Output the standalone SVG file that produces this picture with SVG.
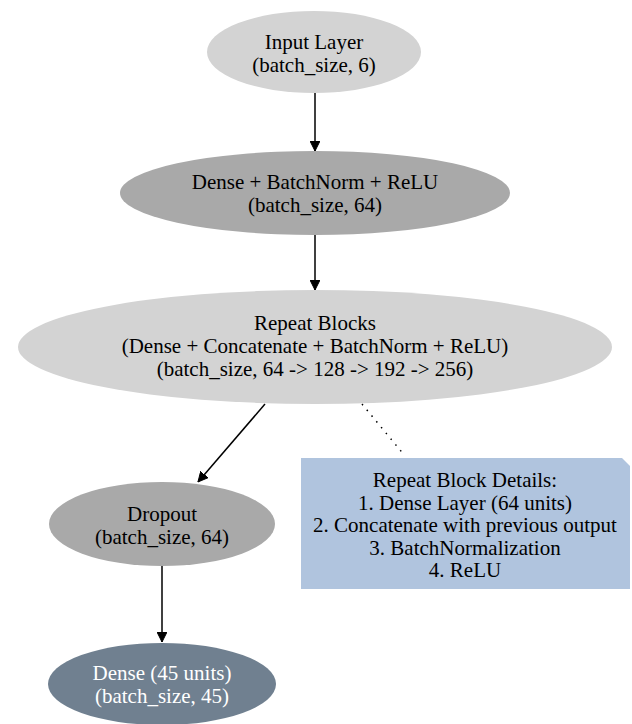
<svg xmlns="http://www.w3.org/2000/svg" width="632" height="724" viewBox="0 0 632 724">
<defs>
<marker id="arr" viewBox="0 0 10 10" refX="10" refY="5" markerWidth="10" markerHeight="10" markerUnits="userSpaceOnUse" orient="auto">
<path d="M0,0 L10,5 L0,10 z" fill="#000" stroke="#000"/>
</marker>
<style>
text{font-family:'Liberation Serif','Times New Roman',serif;font-size:21px;text-anchor:middle;fill:#000}
.w{fill:#fff}
.e{stroke:#000;stroke-width:1.5;fill:none}
.d{stroke:#000;stroke-width:1.5;fill:none;stroke-dasharray:1.5,6}
</style>
</defs>
<rect width="632" height="724" fill="#fff"/>
<g id="connectors">
<line class="e" x1="315" y1="93" x2="315" y2="151" marker-end="url(#arr)"/>
<line class="e" x1="315" y1="235" x2="315" y2="290" marker-end="url(#arr)"/>
<line class="e" x1="265" y1="404" x2="198" y2="482" marker-end="url(#arr)"/>
<line class="d" x1="362" y1="404" x2="405" y2="456"/>
<line class="e" x1="162" y1="566" x2="162" y2="642" marker-end="url(#arr)"/>
</g>
<g id="input">
<ellipse cx="314" cy="52" rx="107" ry="41" fill="#d3d3d3"/>
<text x="314" y="49">Input Layer</text>
<text x="314" y="72">(batch_size, 6)</text>
</g>
<g id="dense1">
<ellipse cx="315" cy="193" rx="195" ry="42" fill="#a9a9a9"/>
<text x="315" y="189">Dense + BatchNorm + ReLU</text>
<text x="315" y="212">(batch_size, 64)</text>
</g>
<g id="repeat">
<ellipse cx="315" cy="347" rx="297" ry="57" fill="#d3d3d3"/>
<text x="315" y="330">Repeat Blocks</text>
<text x="315" y="353">(Dense + Concatenate + BatchNorm + ReLU)</text>
<text x="315" y="376">(batch_size, 64 -&gt; 128 -&gt; 192 -&gt; 256)</text>
</g>
<g id="dropout">
<ellipse cx="162" cy="524" rx="113" ry="42" fill="#a9a9a9"/>
<text x="162" y="521">Dropout</text>
<text x="162" y="544">(batch_size, 64)</text>
</g>
<g id="dense2">
<ellipse cx="162" cy="684" rx="114" ry="41" fill="#708090"/>
<text class="w" x="162" y="680">Dense (45 units)</text>
<text class="w" x="162" y="703">(batch_size, 45)</text>
</g>
<g id="note">
<path d="M301,458 L622,458 L630,466 L630,589 L301,589 z" fill="#b0c4de"/>
<text x="465" y="487">Repeat Block Details:</text>
<text x="465" y="510">1. Dense Layer (64 units)</text>
<text x="465" y="532">2. Concatenate with previous output</text>
<text x="465" y="555">3. BatchNormalization</text>
<text x="465" y="577">4. ReLU</text>
</g>
</svg>
